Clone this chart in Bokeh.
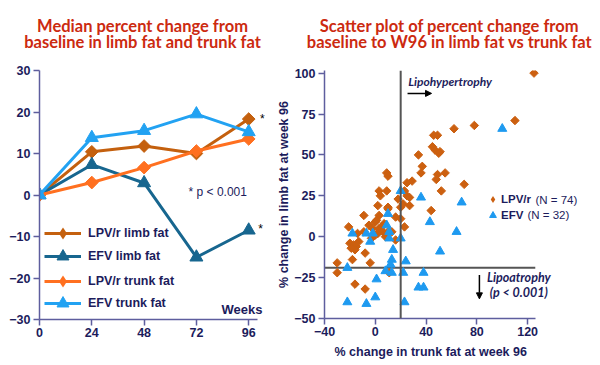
import math
from bokeh.plotting import figure
from bokeh.layouts import row, column
from bokeh.models import (Range1d, Legend, LegendItem, Label, Span, Arrow, Title,
                          NormalHead, FixedTicker)
from bokeh.embed import file_html
from bokeh.resources import INLINE

# ---------------- data: left chart ----------------
weeks = [0, 24, 48, 72, 96]
lpv_limb = [0, 10.4, 11.8, 10.0, 18.3]
efv_limb = [0, 7.3, 2.9, -15.0, -8.5]
lpv_trunk = [0, 3.0, 6.6, 10.6, 13.5]
efv_trunk = [0, 13.8, 15.5, 19.5, 15.2]
left_yticks = [-30, -20, -10, 0, 10, 20, 30]
left_series = ["LPV/r limb fat", "EFV limb fat", "LPV/r trunk fat", "EFV trunk fat"]

# ---------------- data: right chart (trunk %, limb %) ----------------
lpv_trunk_w96 = [125, 110, 78, 62, 46, 49, 45, 47, 50, 51, 34, 37, 36, 55, 49, 48, 70, 52,
                 9, 10, 29, 25, 3, 9, 4, 18, 23, 25, 27, 2, 10, 10, 20, 22, 27, 44,
                 -9, 3, 16, 20, 23, -21, -5, 0, 1, 3, 5, 6, 4, 10, 13, -9, -14, 0, -3, 16,
                 -20, -17, -15, -13, -16, -19, -8, -18, -30, -4, -30, 11, -16, -8, 7, -2, 2, 8]
lpv_limb_w96 = [100, 71, 68, 66, 62, 62, 55, 53, 51, 52, 50, 43, 39, 39, 38, 35, 32, 28,
                39, 37, 34, 33, 28, 28, 25, 23, 28, 25, 24, 19, 18, 17, 18, 20, 19, 16,
                13, 13, 12, 11, 6, 6, 7, 9, 10, 5, 6, 3, 4, 3, 3, 3, 2, 1, -1, -2,
                -4, -5, -6, -3, -8, -7, -10, -14, -16, -16, -22, -22, -29, -32, 8, 5, 2, 0]
efv_trunk_w96 = [100, 68, 36, 20, 10, 43, 64, 51, -18, -7, -2, -4, 9, 11, 11, 20,
                 14, 13, 12, 8, 24, -22, 13, 22, 38, 1, 34, 38, -22, -7, 0, 23]
efv_limb_w96 = [66, 21, 24, 28, 14, 9, 3, -9, 2, 2, 2, -3, 7, 3, -1, -1,
                -8, -14, -17, -21, -15, -19, -22, -22, -22, -26, -31, -31, -40, -41, -37, -40]
right_series = ["LPV/r", "EFV"]
right_counts = ["(N = 74)", "(N = 32)"]
right_xticks = [-40, 0, 40, 80, 120]
right_yticks = [-50, -25, 0, 25, 50, 75, 100]
lipohyper_threshold = 20     # % change in trunk fat
lipoatrophy_threshold = -19  # % change in limb fat
right_x_bounds = (-40, 126)
left_x_bounds = (0, 100)

# ---------------- styles ----------------
NAVY = "#1C1C5C"
AXIS = "#5E5E9E"
RED = "#CC2A10"
C_LPV_LIMB = "#C4600E"
C_EFV_LIMB = "#17668F"
C_LPV_TRUNK = "#FF7020"
C_EFV_TRUNK = "#22A2F2"
C_DIAMOND = "#CC6010"
C_TRIANGLE = "#1E9AF0"
TICKFONT = "Liberation Sans"
TITLEFONT = "Lato"


def style_axes(p):
    for ax in (p.xaxis[0], p.yaxis[0]):
        ax.axis_line_color = AXIS
        ax.axis_line_width = 1.5
        ax.major_tick_line_color = AXIS
        ax.major_tick_line_width = 1.5
        ax.major_tick_out = 6
        ax.major_tick_in = 0
        ax.minor_tick_line_color = None
        ax.major_label_text_font = TICKFONT
        ax.major_label_text_font_style = "bold"
        ax.major_label_text_font_size = "12.5px"
        ax.major_label_text_color = NAVY
        ax.axis_label_text_font = TICKFONT
        ax.axis_label_text_font_style = "bold"
        ax.axis_label_text_font_size = "12.5px"
        ax.axis_label_text_color = NAVY
    p.xgrid.grid_line_color = None
    p.ygrid.grid_line_color = None
    p.outline_line_color = None


def title_fig(width, cx, line1, line2):
    t = figure(width=width, height=53, output_backend="svg", toolbar_location=None,
               x_range=Range1d(0, width), y_range=Range1d(0, 53),
               x_axis_type=None, y_axis_type=None, min_border=0)
    t.outline_line_color = None
    for txt, yy in ((line1, 28), (line2, 12)):
        t.add_layout(Label(x=cx, y=yy, text=txt, text_font=TITLEFONT, text_font_style="bold",
                           text_font_size="16.5px", text_color=RED, text_align="center",
                           text_baseline="middle"))
    return t


def one_legend(p, item, loc, gw, gh, standoff, fsize):
    p.add_layout(Legend(items=[item], location=loc, glyph_width=gw, glyph_height=gh,
                        label_height=gh, spacing=0, padding=0, margin=0,
                        label_standoff=standoff, border_line_color=None,
                        background_fill_alpha=0, label_text_font=TICKFONT,
                        label_text_font_style="bold", label_text_font_size=fsize,
                        label_text_color=NAVY))


# ---------------- left figure ----------------
p1 = figure(frame_width=231, frame_height=249, output_backend="svg", toolbar_location=None,
            x_range=Range1d(0, 106), y_range=Range1d(-30, 30),
            min_border_left=39, min_border_right=4, min_border_top=17, min_border_bottom=44)
style_axes(p1)
p1.xaxis.ticker = FixedTicker(ticks=weeks)
p1.yaxis.ticker = FixedTicker(ticks=left_yticks)
p1.xaxis.bounds = left_x_bounds
p1.xaxis.major_label_standoff = 2
p1.yaxis.major_label_standoff = 3

specs = [(lpv_limb, C_LPV_LIMB, "diamond"), (efv_limb, C_EFV_LIMB, "triangle"),
         (lpv_trunk, C_LPV_TRUNK, "diamond"), (efv_trunk, C_EFV_TRUNK, "triangle")]
legend_rows_left = [71, 48, 23, 1]
for name, (ys, col, mk), ly in zip(left_series, specs, legend_rows_left):
    ln = p1.line(weeks, ys, line_color=col, line_width=3)
    if mk == "diamond":
        p1.scatter(weeks, ys, marker="square", size=9, angle=math.pi / 4,
                   fill_color=col, line_color=col)
        # legend swatch (size 0: not visible in the plot itself)
        sw = p1.scatter(weeks, ys, marker="diamond", size=0, fill_color=col, line_color=None)
    else:
        sw = p1.scatter(weeks, ys, marker="triangle", size=13, fill_color=col, line_color=col)
    one_legend(p1, LegendItem(label=name, renderers=[ln, sw]), (5, ly), 37, 30, 7, "12.5px")

p1.add_layout(Label(x=68.4, y=0.7, text="* p < 0.001", text_font=TICKFONT,
                    text_font_size="12px", text_color=NAVY, text_baseline="middle"))
p1.add_layout(Label(x=101.2, y=18.3, text="*", text_font=TICKFONT, text_font_size="12px",
                    text_color="black", text_baseline="middle"))
p1.add_layout(Label(x=100.4, y=-8.2, text="*", text_font=TICKFONT, text_font_size="12px",
                    text_color="black", text_baseline="middle"))
p1.add_layout(Label(x=102.3, y=-27.6, text="Weeks", text_font=TICKFONT, text_font_style="bold",
                    text_font_size="13px", text_color=NAVY, text_baseline="middle",
                    text_align="right"))

# ---------------- right figure ----------------
p2 = figure(frame_width=257, frame_height=248, output_backend="svg", toolbar_location=None,
            x_range=Range1d(-40, 162.4), y_range=Range1d(-50, 101.6),
            min_border_left=45, min_border_right=15, min_border_top=17, min_border_bottom=42)
style_axes(p2)
p2.xaxis.ticker = FixedTicker(ticks=right_xticks)
p2.yaxis.ticker = FixedTicker(ticks=right_yticks)
p2.xaxis.bounds = right_x_bounds
p2.xaxis.major_label_standoff = 2
p2.yaxis.major_label_standoff = 3
p2.yaxis.axis_label = "% change in limb fat at week 96"
p2.yaxis.axis_label_standoff = 0
p2.add_layout(Title(text="% change in trunk fat at week 96", align="left", offset=10,
                    text_font=TICKFONT, text_font_style="bold", text_font_size="12.5px",
                    text_color=NAVY, standoff=8), "below")

p2.add_layout(Span(location=lipohyper_threshold, dimension="height",
                   line_color="#555555", line_width=2))
p2.segment(x0=[right_x_bounds[0]], y0=[lipoatrophy_threshold],
           x1=[right_x_bounds[1]], y1=[lipoatrophy_threshold],
           line_color="#555555", line_width=2)

p2.scatter(lpv_trunk_w96, lpv_limb_w96, marker="square", size=6, angle=math.pi / 4,
           fill_color=C_DIAMOND, line_color=C_DIAMOND)
r_efv = p2.scatter(efv_trunk_w96, efv_limb_w96, marker="triangle", size=9,
                   fill_color=C_TRIANGLE, line_color=C_TRIANGLE)
sw_lpv = p2.scatter(lpv_trunk_w96, lpv_limb_w96, marker="diamond", size=0,
                    fill_color=C_DIAMOND, line_color=None)

one_legend(p2, LegendItem(label=right_series[0], renderers=[sw_lpv]), (160, 110), 17, 18, 0,
           "11.5px")
one_legend(p2, LegendItem(label=right_series[1], renderers=[r_efv]), (160, 94), 17, 18, 0,
           "11.5px")
p2.add_layout(Label(x=126.1, y=22.6, text=right_counts[0], text_font=TICKFONT,
                    text_font_size="11.5px", text_color=NAVY, text_baseline="middle"))
p2.add_layout(Label(x=119.8, y=13.0, text=right_counts[1], text_font=TICKFONT,
                    text_font_size="11.5px", text_color=NAVY, text_baseline="middle"))

p2.add_layout(Label(x=26, y=95, text="Lipohypertrophy", text_font=TITLEFONT,
                    text_font_style="bold italic", text_font_size="12px", text_color=NAVY,
                    text_baseline="middle"))
p2.add_layout(Arrow(end=NormalHead(size=6, fill_color="black", line_color="black"),
                    x_start=25.4, y_start=87.6, x_end=44.3, y_end=87.6,
                    line_color="black", line_width=1.5))
p2.add_layout(Label(x=113, y=-25.2, text="Lipoatrophy", text_font=TITLEFONT,
                    text_font_style="bold italic", text_font_size="12.5px", text_color=NAVY,
                    text_baseline="middle", text_align="center"))
p2.add_layout(Label(x=113, y=-34.3, text="(p < 0.001)", text_font=TITLEFONT,
                    text_font_style="bold italic", text_font_size="12.5px", text_color=NAVY,
                    text_baseline="middle", text_align="center"))
p2.add_layout(Arrow(end=NormalHead(size=6, fill_color="black", line_color="black"),
                    x_start=82, y_start=-23.4, x_end=82, y_end=-38,
                    line_color="black", line_width=1.5))

t1 = title_fig(274, 142, "Median percent change from", "baseline in limb fat and trunk fat")
t2 = title_fig(322, 175, "Scatter plot of percent change from",
               "baseline to W96 in limb fat vs trunk fat")

layout = column(row(t1, t2), row(p1, p2))
open("out.html", "w").write(file_html(layout, INLINE))
